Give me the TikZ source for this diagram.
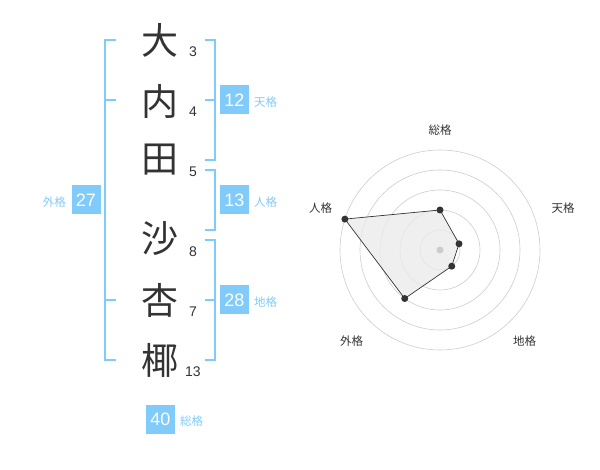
\documentclass[tikz,border=0pt]{standalone}
\usepackage{fontspec}
\setmainfont{Liberation Sans}
\newfontfamily\jp{Noto Sans CJK JP}
\definecolor{kblue}{HTML}{80CBFA}
\definecolor{ktext}{HTML}{333333}
\definecolor{kring}{HTML}{CCCCCC}
\begin{document}
\begin{tikzpicture}[x=1pt,y=-1pt,
  kanji/.style={font=\jp\fontsize{37}{37}\selectfont, text=ktext, inner sep=0pt},
  strokes/.style={font=\fontsize{14}{14}\selectfont, text=ktext, inner sep=0pt},
  bracket/.style={draw=kblue, line width=1.6pt},
  valbox/.style={fill=kblue, text=white, minimum width=29pt, minimum height=29pt, inner sep=0pt, font=\fontsize{18}{18}\selectfont},
  kaku/.style={text=kblue, font=\jp\fontsize{11.5}{11.5}\selectfont, inner sep=0pt},
  ring/.style={draw=kring, line width=0.6pt},
  axlabel/.style={text=ktext, font=\jp\fontsize{11.5}{11.5}\selectfont, inner sep=0pt},
  vdot/.style={circle, fill=ktext, inner sep=0pt, minimum size=7pt}]
\useasboundingbox (0,0) rectangle (600,470);
% kanji
\node[kanji] (k1) at (160,40) {大};
\node[kanji] (k2) at (160,101) {内};
\node[kanji] (k3) at (160,160) {田};
\node[kanji] (k4) at (160,239) {沙};
\node[kanji] (k5) at (160,300) {杏};
\node[kanji] (k6) at (160,360) {椰};
% stroke counts
\node[strokes] (s1) at (193,52) {3};
\node[strokes] (s2) at (193,112) {4};
\node[strokes] (s3) at (193,172) {5};
\node[strokes] (s4) at (193,252) {8};
\node[strokes] (s5) at (193,312) {7};
\node[strokes] (s6) at (193,372) {13};
% brackets
\draw[bracket] (116,40) -- (105,40) -- (105,360) -- (116,360);
\draw[bracket] (105,100) -- (116,100);
\draw[bracket] (105,300) -- (116,300);
\draw[bracket] (205,40) -- (215,40) -- (215,160) -- (205,160);
\draw[bracket] (205,100) -- (215,100);
\draw[bracket] (205,170) -- (215,170) -- (215,230) -- (205,230);
\draw[bracket] (205,240) -- (215,240) -- (215,360) -- (205,360);
\draw[bracket] (205,300) -- (215,300);
% value boxes
\node[valbox] (b12) at (234.5,100) {12};
\node[kaku, anchor=west] (l12) at (254,102) {天格};
\node[valbox] (b13) at (234.5,200) {13};
\node[kaku, anchor=west] (l13) at (254,202) {人格};
\node[valbox] (b28) at (234.5,300) {28};
\node[kaku, anchor=west] (l28) at (254,302) {地格};
\node[valbox] (b27) at (86,200) {27};
\node[kaku, anchor=east] (l27) at (66,202) {外格};
\node[valbox] (b40) at (160.5,419) {40};
\node[kaku, anchor=west] (l40) at (180,421) {総格};
% radar
\coordinate (c) at (440,250);
\foreach \r in {20,40,60,80,100} \draw[ring] (c) circle[radius=\r];
\path (c) ++(0,-40) coordinate (p1)
      (c) ++({20*cos(18)},{-20*sin(18)}) coordinate (p2)
      (c) ++({20*cos(54)},{20*sin(54)}) coordinate (p3)
      (c) ++({-60*cos(54)},{60*sin(54)}) coordinate (p4)
      (c) ++({-100*cos(18)},{-100*sin(18)}) coordinate (p5);
\filldraw[fill=black!8, fill opacity=0.8, draw=ktext, line width=0.7pt] (p1) -- (p2) -- (p3) -- (p4) -- (p5) -- cycle;
\fill[kring] (c) circle[radius=3.5];
\foreach \p in {p1,p2,p3,p4,p5} \node[vdot] at (\p) {};
\node[axlabel] (a1) at (440,130.5) {総格};
\node[axlabel] (a2) at (563,208.5) {天格};
\node[axlabel] (a3) at (524.5,341.5) {地格};
\node[axlabel] (a4) at (351.5,341.5) {外格};
\node[axlabel] (a5) at (320.5,208.5) {人格};
\end{tikzpicture}
\end{document}
